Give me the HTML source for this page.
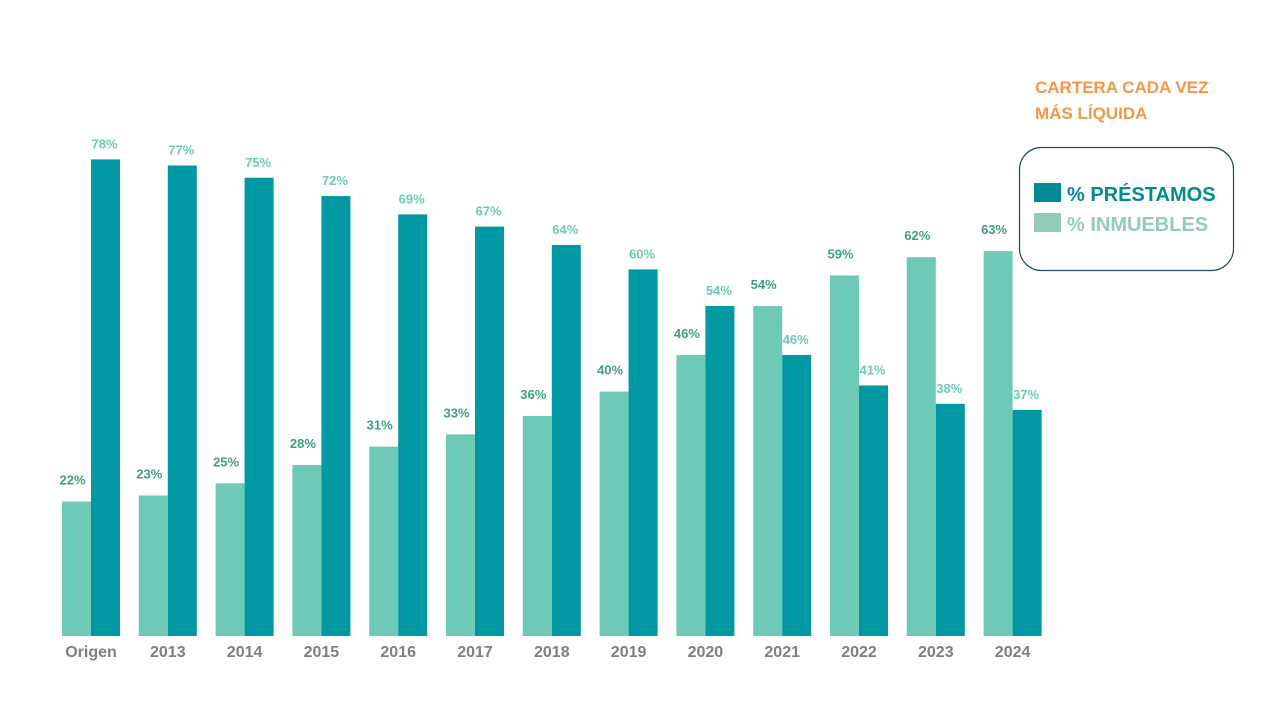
<!DOCTYPE html>
<html><head><meta charset="utf-8"><style>
body{margin:0;background:#fff;width:1280px;height:720px;overflow:hidden;font-family:"Liberation Sans",sans-serif}
</style></head><body>
<svg width="1280" height="720" id="svg" xmlns="http://www.w3.org/2000/svg">
<text x="1035" y="93" fill="#f79646" font-size="17" font-weight="bold">CARTERA CADA VEZ</text>
<text x="1035" y="119" fill="#f79646" font-size="17" font-weight="bold">MÁS LÍQUIDA</text>
<g>
<rect x="1019.5" y="147.5" width="214" height="123" rx="22" fill="#fff" stroke="#1f4e5a" stroke-width="1.2"/>
<rect x="1034" y="183" width="27" height="19" fill="#008b94"/>
<text x="1067" y="201" fill="#008b94" font-size="20" font-weight="bold">% PRÉSTAMOS</text>
<rect x="1034" y="213" width="27" height="19" fill="#93cdb8"/>
<text x="1067" y="231" fill="#93cdb8" font-size="20" font-weight="bold">% INMUEBLES</text>
</g>
<g id="bars"></g>
</svg>
<script>
const categories=["Origen","2013","2014","2015","2016","2017","2018","2019","2020","2021","2022","2023","2024"];
const inmuebles=[22,23,25,28,31,33,36,40,46,54,59,62,63];
const prestamos=[78,77,75,72,69,67,64,60,54,46,41,38,37];
const base=636, unit=6.11, x0=62, step=76.8, bw=29;
const y=v=>base-v*unit;
const g=document.getElementById('bars');
const NS="http://www.w3.org/2000/svg";
function mk(t,a){const e=document.createElementNS(NS,t);for(const k in a)e.setAttribute(k,a[k]);g.appendChild(e);return e;}
categories.forEach((c,i)=>{
  const xi=x0+i*step, xp=xi+bw;
  let r=mk('rect',{x:xi,y:y(inmuebles[i]),width:bw,height:inmuebles[i]*unit,fill:'#6ecab7'});
  
  
  r=mk('rect',{x:xp,y:y(prestamos[i]),width:bw,height:prestamos[i]*unit,fill:'#0098a3'});
  
  
  let t=mk('text',{x:xi+bw/2-4,y:y(inmuebles[i])-17,'text-anchor':'middle',fill:'#3f9f80','font-size':13,'font-weight':'bold'});
  t.textContent=inmuebles[i]+'%';
  
  
  t=mk('text',{x:xp+bw/2-1,y:y(prestamos[i])-11,'text-anchor':'middle',fill:'#6ecab7','font-size':13,'font-weight':'bold'});
  t.textContent=prestamos[i]+'%';
  
  
  t=mk('text',{x:xi+bw,y:657,'text-anchor':'middle',fill:'#7f7f7f','font-size':16,'font-weight':'bold'});
  t.textContent=c;
  
  
});
</script>
</body></html>
